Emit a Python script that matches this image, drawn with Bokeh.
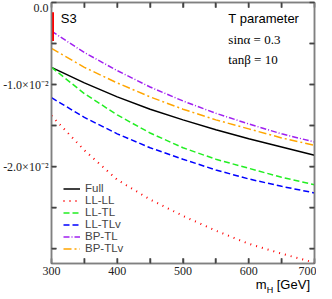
from bokeh.plotting import figure
from bokeh.layouts import column
from bokeh.models import (LinearAxis, FixedTicker, Range1d, Legend, LegendItem, Label, Div)
from bokeh.embed import file_html
from bokeh.resources import INLINE

# ---- data ----
mH = [300, 350, 400, 450, 500, 550, 600, 650, 700]
full   = [-7.9e-3, -9.8e-3, -11.5e-3, -13.0e-3, -14.3e-3, -15.5e-3, -16.6e-3, -17.6e-3, -18.6e-3]
ll_ll  = [-13.8e-3, -18.0e-3, -21.6e-3, -24.0e-3, -26.0e-3, -27.8e-3, -29.4e-3, -30.6e-3, -31.7e-3]
ll_tl  = [-7.9e-3, -11.1e-3, -13.7e-3, -15.9e-3, -17.7e-3, -19.1e-3, -20.2e-3, -21.3e-3, -22.2e-3]
ll_tlv = [-11.6e-3, -14.0e-3, -16.0e-3, -17.7e-3, -19.1e-3, -20.4e-3, -21.5e-3, -22.4e-3, -23.2e-3]
bp_tl  = [-3.5e-3, -6.1e-3, -8.3e-3, -10.3e-3, -12.0e-3, -13.5e-3, -14.8e-3, -16.0e-3, -17.0e-3]
bp_tlv = [-5.6e-3, -7.9e-3, -9.8e-3, -11.5e-3, -13.0e-3, -14.3e-3, -15.4e-3, -16.5e-3, -17.4e-3]
s3_x = [300]
s3_top = [-1.2e-3]
s3_bot = [-4.7e-3]

x_ticks = [300, 350, 400, 450, 500, 550, 600, 650, 700]
x_labels = {300: "300", 400: "400", 500: "500", 600: "600", 700: "700"}
y_ticks = [0.0, -0.005, -0.01, -0.015, -0.02, -0.025, -0.03]
y_labels = {0.0: "0.0", -0.01: "-1.0×10⁻²", -0.02: "-2.0×10⁻²"}

X0, X1 = 300, 700
Y0, Y1 = -0.0318, 0.0

AX = "#808080"
SERIF = "Liberation Serif"
SANS = "Liberation Sans"

p = figure(width=316, height=278, output_backend="svg", toolbar_location=None,
           x_range=Range1d(X0, X1), y_range=Range1d(Y0, Y1),
           min_border_left=41, min_border_right=2, min_border_top=2, min_border_bottom=15)
p.grid.visible = False
p.outline_line_color = AX
p.outline_line_width = 1.5
p.background_fill_color = "white"
p.border_fill_color = "white"

def style(ax, labels, ticks, show):
    ax.ticker = FixedTicker(ticks=ticks, minor_ticks=[])
    ov = {t: "" for t in ticks}
    if show:
        ov.update(labels)
    ax.major_label_overrides = ov
    ax.axis_line_color = AX
    ax.axis_line_width = 1.5
    ax.major_tick_line_color = "#444444"
    ax.major_tick_line_width = 1.5
    ax.major_tick_in = 5
    ax.major_tick_out = 0
    ax.minor_tick_line_color = None
    ax.major_label_text_font = SERIF
    ax.major_label_text_font_size = "12px" if show else "0px"
    ax.major_label_text_color = "#222222"
    ax.major_label_standoff = 3

style(p.xaxis[0], x_labels, x_ticks, True)
style(p.yaxis[0], y_labels, y_ticks, True)
top = LinearAxis()
right = LinearAxis()
style(top, x_labels, x_ticks, False)
style(right, y_labels, y_ticks, False)
top.major_label_standoff = 0
right.major_label_standoff = 0
p.add_layout(top, "above")
p.add_layout(right, "right")

# inward tick marks drawn at the tick values (lengths ~5 px)
dx = (X1 - X0) * 5 / 273
dy = (Y1 - Y0) * 5 / 253
xt = x_ticks[1:-1]
yt = y_ticks[1:]
tick_kw = dict(line_color="#444444", line_width=1.5)
p.segment(x0=xt, y0=[Y0] * len(xt), x1=xt, y1=[Y0 + dy] * len(xt), **tick_kw)
p.segment(x0=xt, y0=[Y1] * len(xt), x1=xt, y1=[Y1 - dy] * len(xt), **tick_kw)
p.segment(x0=[X0] * len(yt), y0=yt, x1=[X0 + dx] * len(yt), y1=yt, **tick_kw)
p.segment(x0=[X1] * len(yt), y0=yt, x1=[X1 - dx] * len(yt), y1=yt, **tick_kw)

r_full = p.line(mH, full, line_color="black", line_width=1.5)
r_ll = p.line(mH, ll_ll, line_color="#ff0000", line_width=2, line_dash="1 5")
r_lt = p.line(mH, ll_tl, line_color="#22ee22", line_width=1.5, line_dash="6 3")
r_ltv = p.line(mH, ll_tlv, line_color="#0000ff", line_width=1.5, line_dash="6 3")
r_bp = p.line(mH, bp_tl, line_color="#a020f0", line_width=1.5, line_dash="6 2 1 2")
r_bpv = p.line(mH, bp_tlv, line_color="#ffa500", line_width=1.5, line_dash="8 3 2 3")

p.segment(x0=s3_x, y0=s3_top, x1=s3_x, y1=s3_bot, line_color="#ff0000", line_width=5)

legend = Legend(items=[
    LegendItem(label="Full", renderers=[r_full]),
    LegendItem(label="LL-LL", renderers=[r_ll]),
    LegendItem(label="LL-TL", renderers=[r_lt]),
    LegendItem(label="LL-TLv", renderers=[r_ltv]),
    LegendItem(label="BP-TL", renderers=[r_bp]),
    LegendItem(label="BP-TLv", renderers=[r_bpv]),
], location=(12, 9))
legend.background_fill_alpha = 0
legend.border_line_color = None
legend.padding = 0
legend.margin = 0
legend.spacing = 0
legend.label_height = 11
legend.glyph_height = 11
legend.glyph_width = 17
legend.label_standoff = 5
legend.label_text_font = SANS
legend.label_text_font_size = "11.5px"
legend.label_text_line_height = 1.0
p.add_layout(legend)

def txt(x, y, t, font=SANS, size="13px"):
    p.add_layout(Label(x=x, y=y, text=t, text_font=font, text_font_size=size,
                       text_baseline="middle", text_align="left", text_color="black"))

txt(314, -0.0019, "S3", size="13px")
txt(569, -0.0019, "T parameter")
txt(569, -0.0045, "sinα = 0.3", font=SERIF)
txt(569, -0.0069, "tanβ = 10", font=SERIF)

xlabel = Div(text='<span style="position:relative; top:0px">m<sub style="font-size:9px">H</sub> [GeV]</span>',
             width=316, height=13, margin=(0, 0, 0, 0),
             styles={"font-family": SANS, "font-size": "13px", "text-align": "right",
                     "padding-right": "6px", "color": "black", "line-height": "13px",
                     "overflow": "visible"})

layout = column(p, xlabel, spacing=0)
open("out.html", "w").write(file_html(layout, INLINE))
